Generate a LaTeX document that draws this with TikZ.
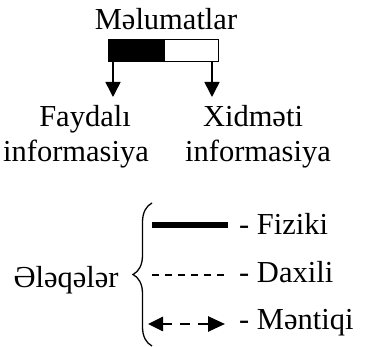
\documentclass[tikz,border=0pt]{standalone}
\usepackage{fontspec}
\setmainfont{Liberation Serif}
\usetikzlibrary{arrows.meta,decorations.pathreplacing}
\begin{document}
\begin{tikzpicture}[x=1pt,y=-1pt,
  txt/.style={inner sep=0pt,font=\fontsize{30.5}{36}\selectfont},
  barbox/.style={draw,line width=1.4pt,minimum height=22pt,inner sep=0pt,anchor=north west},
  downarr/.style={line width=1.5pt,-{Triangle[width=15pt,length=15pt]}},
  logarr/.style={line width=2.6pt,dash pattern=on 10pt off 8pt,{Triangle[width=14pt,length=15pt]}-{Triangle[width=15pt,length=17pt]}}]
\useasboundingbox (0,0) rectangle (365,347);
% top part
\node[txt,anchor=base] (mel) at (166,30) {Məlumatlar};
\node[barbox,fill=black,minimum width=56pt] (blk) at (108,39) {};
\node[barbox,fill=white,minimum width=54pt] (wht) at (164,39) {};
\coordinate (t1) at (113,97);
\coordinate (t2) at (212,97);
\draw[downarr] (blk.south -| t1) -- (t1);
\draw[downarr] (wht.south -| t2) -- (t2);
\node[txt,anchor=base] (fay) at (85,127) {Faydalı};
\node[txt,anchor=base] (inf1) at (76,162) {informasiya};
\node[txt,anchor=base] (xid) at (253,127) {Xidməti};
\node[txt,anchor=base] (inf2) at (258,162) {informasiya};
% bottom part
\node[txt,anchor=base] (elq) at (66,288) {Ələqələr};
\coordinate (bb) at (152,346);
\coordinate (bt) at (152,203);
\draw[line width=1.3pt,decorate,decoration={brace,amplitude=19pt}] (bb) -- (bt);
\coordinate (f1) at (152,225);
\coordinate (f2) at (228,225);
\draw[line width=6pt] (f1) -- (f2);
\node[txt,anchor=base west] (fiz) at (239,235) {- Fiziki};
\coordinate (d1) at (152,275);
\coordinate (d2) at (228,275);
\draw[line width=1.2pt,dash pattern=on 7pt off 6pt] (d1) -- (d2);
\node[txt,anchor=base west] (dax) at (239,283) {- Daxili};
\coordinate (m1) at (148,324);
\coordinate (m2) at (225,324);
\draw[logarr] (m1) -- (m2);
\node[txt,anchor=base west] (men) at (239,330) {- Məntiqi};
\end{tikzpicture}
\end{document}
